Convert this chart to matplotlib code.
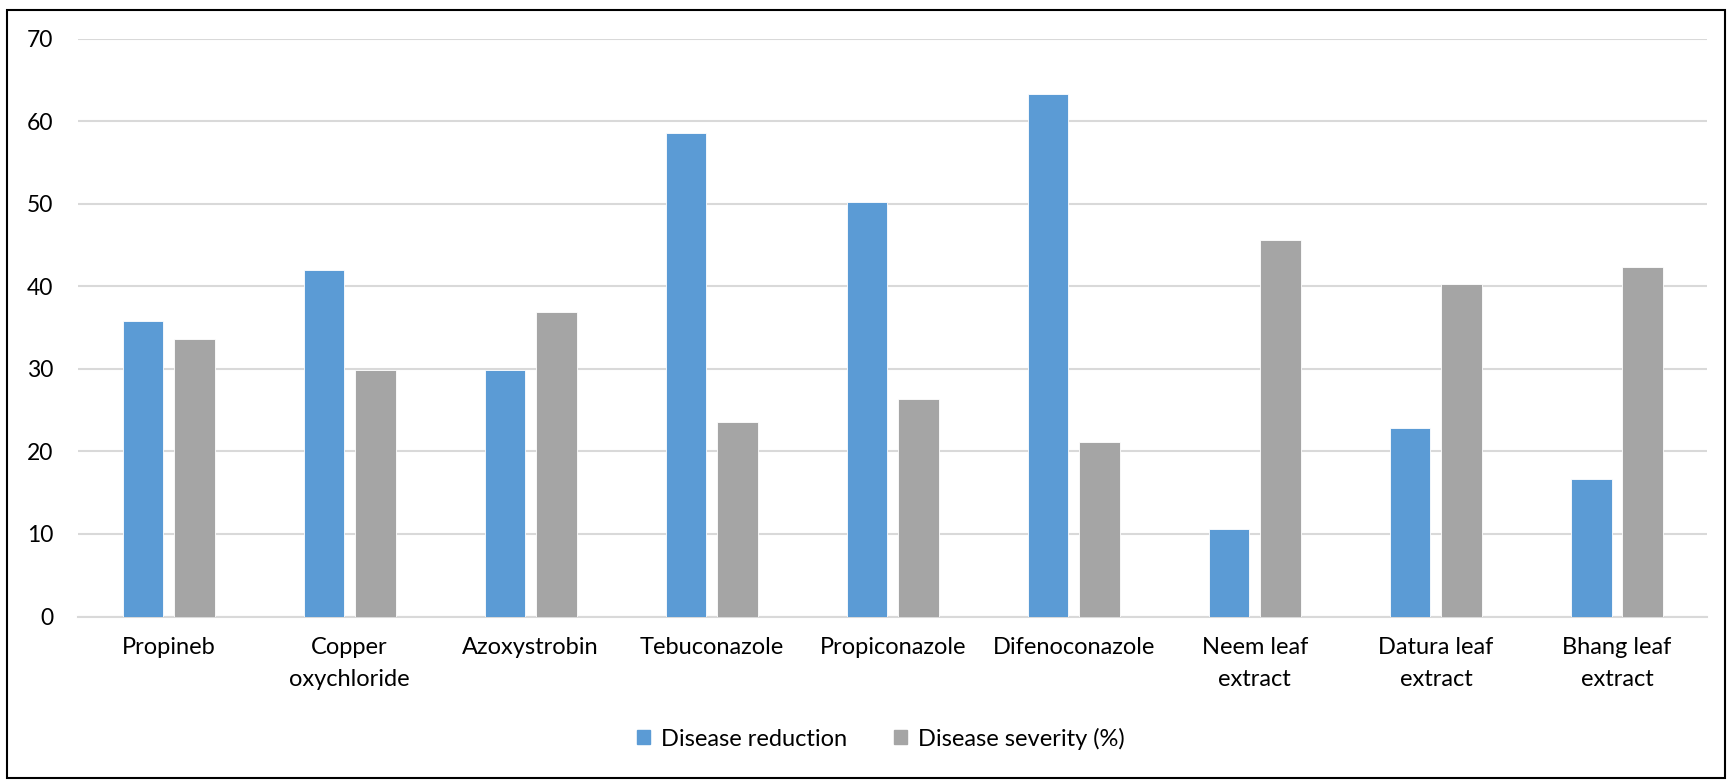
import matplotlib.pyplot as plt
import numpy as np
from matplotlib.patches import Rectangle, Patch

# Data
categories = ['Propineb', 'Copper\noxychloride', 'Azoxystrobin', 'Tebuconazole',
              'Propiconazole', 'Difenoconazole', 'Neem leaf\nextract',
              'Datura leaf\nextract', 'Bhang leaf\nextract']
disease_reduction = [35.8, 42.0, 29.9, 58.6, 50.2, 63.3, 10.6, 22.8, 16.6]
disease_severity = [33.6, 29.9, 36.9, 23.6, 26.3, 21.2, 45.6, 40.3, 42.4]
series_names = ['Disease reduction', 'Disease severity (%)']

blue = '#5B9BD5'
grey = '#A5A5A5'

plt.rcParams['font.family'] = ['Lato', 'DejaVu Sans']

fig = plt.figure(figsize=(17.34, 7.8), dpi=100)
ax = fig.add_axes([0.045, 0.2096, 0.9397, 0.7408])

x = np.arange(len(categories))
bw = 0.224
off = 0.142
ax.bar(x - off, disease_reduction, bw, color=blue, edgecolor='white', linewidth=0.6, zorder=3)
ax.bar(x + off, disease_severity, bw, color=grey, edgecolor='white', linewidth=0.6, zorder=3)

ax.set_xlim(-0.5, len(categories) - 0.5)
ax.set_ylim(0, 70)
ax.set_yticks(range(0, 71, 10))
ax.yaxis.grid(True, color='#d9d9d9', linewidth=1.5, zorder=0)
ax.set_axisbelow(True)
for s in ['top', 'right', 'left']:
    ax.spines[s].set_visible(False)
ax.spines['bottom'].set_color('#d9d9d9')
ax.spines['bottom'].set_linewidth(1.5)

ax.set_xticks(x)
ax.set_xticklabels(categories, fontsize=17, linespacing=1.65)
ax.tick_params(axis='x', length=0, pad=15, colors='black')
ax.tick_params(axis='y', length=0, pad=18, labelsize=16.5, colors='black')

handles = [Patch(color=blue), Patch(color=grey)]
fig.legend(handles, series_names, loc='center', bbox_to_anchor=(0.508, 0.053),
           ncol=2, frameon=False, fontsize=17, handlelength=0.55, handleheight=0.55,
           handletextpad=0.45, columnspacing=2.0)

# outer chart border
fig.patches.append(Rectangle((7 / 1734, 2 / 780), 1718 / 1734, 768 / 780,
                             transform=fig.transFigure, fill=False,
                             edgecolor='black', linewidth=1.5))

fig.savefig('out.png', dpi=100)
